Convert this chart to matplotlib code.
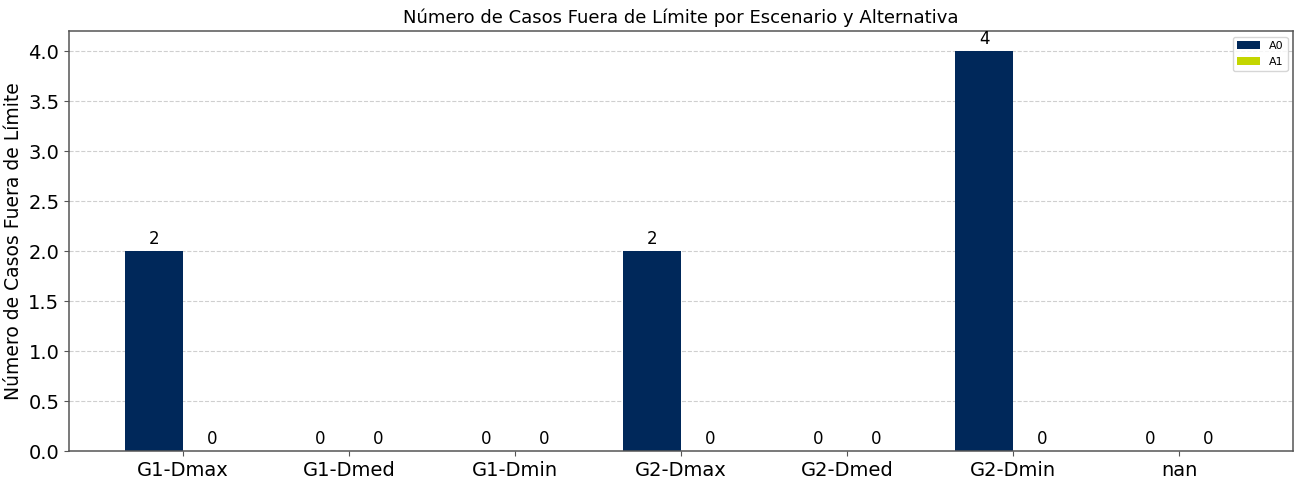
import matplotlib
matplotlib.use("Agg")
import matplotlib.pyplot as plt
import numpy as np

escenarios = ["G1-Dmax", "G1-Dmed", "G1-Dmin", "G2-Dmax", "G2-Dmed", "G2-Dmin", "nan"]
casos_a0 = [2, 0, 0, 2, 0, 4, 0]
casos_a1 = [0, 0, 0, 0, 0, 0, 0]

x = np.arange(len(escenarios))
ancho = 0.35

fig, ax = plt.subplots(figsize=(12.95, 4.79), dpi=100)
b0 = ax.bar(x - ancho / 2, casos_a0, ancho, label="A0", color="#00285a")
b1 = ax.bar(x + ancho / 2, casos_a1, ancho, label="A1", color="#c4d600")
ax.bar_label(b0, padding=2, fontsize=12)
ax.bar_label(b1, padding=2, fontsize=12)

ax.set_title("Número de Casos Fuera de Límite por Escenario y Alternativa", fontsize=13)
ax.set_ylabel("Número de Casos Fuera de Límite", fontsize=13.5)
ax.set_xticks(x)
ax.set_xticklabels(escenarios)
ax.tick_params(axis="both", labelsize=14, color="#555555")
ax.set_ylim(0, 4.2)
ax.grid(axis="y", linestyle="--", alpha=0.6)
ax.set_axisbelow(True)
for s in ax.spines.values():
    s.set_color("#555555")
    s.set_linewidth(1.1)
ax.legend(fontsize=8, loc="upper right")

fig.subplots_adjust(left=0.0533, right=0.9985, top=0.935, bottom=0.058)
fig.savefig("out.png", dpi=100)
